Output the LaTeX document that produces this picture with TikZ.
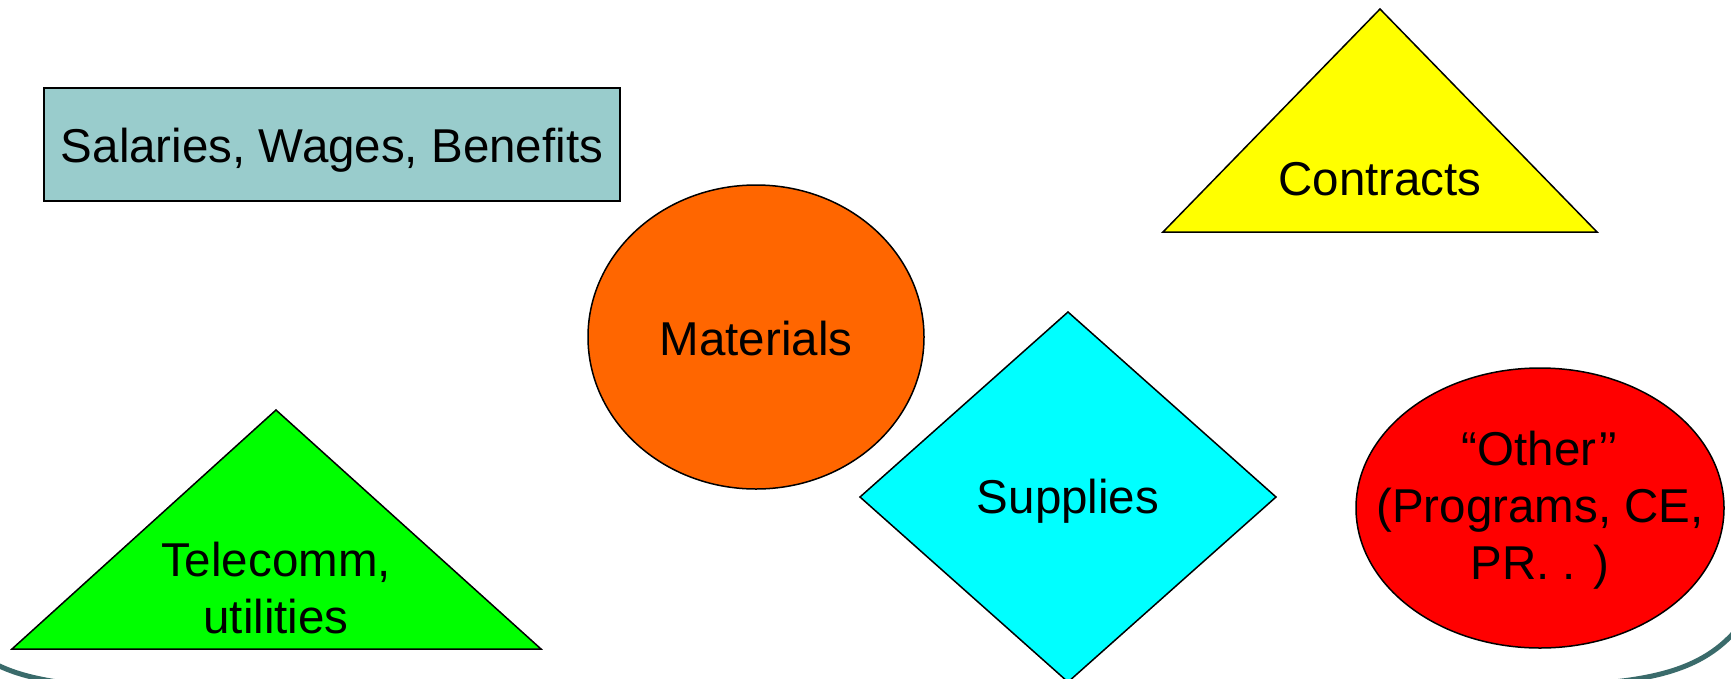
\documentclass[tikz,border=0pt]{standalone}
\usepackage{fontspec}
\setmainfont{Liberation Sans}
\definecolor{salarycol}{HTML}{99CCCC}
\definecolor{contractcol}{HTML}{FFFF00}
\definecolor{materialcol}{HTML}{FF6600}
\definecolor{supplycol}{HTML}{00FFFF}
\definecolor{telecol}{HTML}{00FF00}
\definecolor{othercol}{HTML}{FF0000}
\definecolor{frameteal}{HTML}{3A6B6B}
\begin{document}
\begin{tikzpicture}[x=1pt,y=-1pt,
  outlined/.style={draw=black,line width=1.5pt,line join=miter},
  txt/.style={inner sep=0pt,font=\fontsize{47.5}{57}\selectfont,text=black},
  slideframe/.style={draw=frameteal,line width=5pt}]
\useasboundingbox (0,0) rectangle (1731,678);
\fill[white] (0,0) rectangle (1731,678);

% rounded slide frame, only its lower corners are visible
\begin{scope}
  \clip (0,0) rectangle (1731,678);
  \draw[slideframe] (-12,660) .. controls (10,673) and (40,682) .. (95,686);
  \draw[slideframe] (1738,628) .. controls (1708,664) and (1666,679) .. (1590,684);
\end{scope}

% shapes
\draw[outlined,line width=2pt,fill=salarycol] (44,88) rectangle (620,201);
\draw[outlined,fill=contractcol] (1380,9) -- (1597,232) -- (1163,232) -- cycle;
\draw[outlined,fill=materialcol] (756,337) ellipse [x radius=168pt, y radius=152pt];
\draw[outlined,fill=supplycol] (1068,312) -- (1276,497) -- (1068,682) -- (860,497) -- cycle;
\draw[outlined,fill=telecol] (276,410) -- (541,649) -- (12,649) -- cycle;
\draw[outlined,fill=othercol] (1540,508) ellipse [x radius=184pt, y radius=140pt];

% labels
\node[txt,anchor=base] (salaries) at (332,162) {Salaries, Wages, Benefits};
\node[txt,anchor=base] (contracts) at (1380,195) {Contracts};
\node[txt,anchor=base] (materials) at (756,355) {Materials};
\node[txt,anchor=base] (supplies) at (1068,513) {Supplies};
\node[txt,align=center] (telecomm) at (276,588) {Telecomm,\\utilities};
\node[txt,align=center] (other) at (1540,510) {“Other’’\\(Programs, CE,\\PR. . )};
\end{tikzpicture}
\end{document}
